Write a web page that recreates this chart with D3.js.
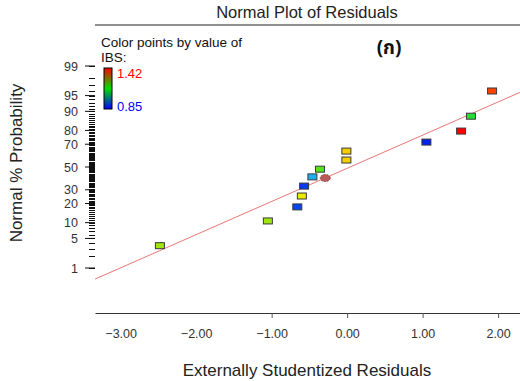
<!DOCTYPE html>
<html>
<head>
<meta charset="utf-8">
<script src="https://cdn.jsdelivr.net/npm/d3@7"></script>
<style>
  body { margin: 0; background: #fff; }
  svg { font-family: "Liberation Sans", Arial, sans-serif; }
</style>
</head>
<body>
<svg id="chart" width="520" height="381"></svg>
<script>
// residuals, normal % probability and IBS value for each run
var residuals = [-2.48, -1.05, -0.66, -0.60, -0.57, -0.46, -0.36, -0.01, -0.01, 1.05, 1.51, 1.64, 1.92];
var probs     = [3.5, 10.7, 17.9, 25.2, 33.0, 41.0, 48.0, 56.4, 64.3, 71.7, 79.6, 87.9, 96.0];
var ibs       = [1.22, 1.22, 0.88, 1.27, 0.87, 0.97, 1.17, 1.295, 1.295, 0.85, 1.42, 1.13, 1.38];

// the round marker sitting on the line
var markResidual = [-0.29];
var markProb = [40.0];

var xTicks = [-3, -2, -1, 0, 1, 2];
var yTicks = [1, 5, 10, 20, 30, 50, 70, 80, 90, 95, 99];
var ibsRange = [0.85, 1.42];

// fitted line z = a + b * residual
var fitIntercept = -0.03, fitSlope = 0.764;

// inverse normal cdf (Acklam)
function qnorm(p) {
    var a = [-3.969683028665376e+01, 2.209460984245205e+02, -2.759285104469687e+02, 1.383577518672690e+02, -3.066479806614716e+01, 2.506628277459239e+00];
    var b = [-5.447609879822406e+01, 1.615858368580409e+02, -1.556989798598866e+02, 6.680131188771972e+01, -1.328068155288572e+01];
    var c = [-7.784894002430293e-03, -3.223964580411365e-01, -2.400758277161838e+00, -2.549732539343734e+00, 4.374664141464968e+00, 2.938163982698783e+00];
    var d = [7.784695709041462e-03, 3.224671290700398e-01, 2.445134137142996e+00, 3.754408661907416e+00];
    var q, r;
    if (p < 0.02425) {
        q = Math.sqrt(-2 * Math.log(p));
        return (((((c[0]*q+c[1])*q+c[2])*q+c[3])*q+c[4])*q+c[5]) / ((((d[0]*q+d[1])*q+d[2])*q+d[3])*q+1);
    }
    if (p > 1 - 0.02425) {
        q = Math.sqrt(-2 * Math.log(1 - p));
        return -(((((c[0]*q+c[1])*q+c[2])*q+c[3])*q+c[4])*q+c[5]) / ((((d[0]*q+d[1])*q+d[2])*q+d[3])*q+1);
    }
    q = p - 0.5; r = q * q;
    return (((((a[0]*r+a[1])*r+a[2])*r+a[3])*r+a[4])*r+a[5])*q / (((((b[0]*r+b[1])*r+b[2])*r+b[3])*r+b[4])*r+1);
}

var svg = d3.select("svg");
var left = 95, right = 520, axisY = 313;

var x = d3.scaleLinear().domain([-3.34, 2.29]).range([left, right]);
var z = d3.scaleLinear().domain([qnorm(0.01), qnorm(0.99)]).range([268, 66]);
var y = function (pct) { return z(qnorm(pct / 100)); };

var color = d3.scaleLinear()
    .domain([0.85, 0.9925, 1.135, 1.2775, 1.42])
    .range(["#0022ee", "#22c8ee", "#22e022", "#f4ec00", "#ff0000"]);

// title + top rule
svg.append("text")
    .attr("x", 307).attr("y", 18)
    .attr("text-anchor", "middle")
    .style("font-size", "16.5px")
    .attr("fill", "#222")
    .text("Normal Plot of Residuals");

svg.append("line")
    .attr("x1", left).attr("x2", right)
    .attr("y1", 25).attr("y2", 25)
    .attr("stroke", "#222");

// x axis
var gx = svg.append("g")
    .attr("transform", "translate(0," + axisY + ")")
    .call(d3.axisBottom(x).tickValues(xTicks).tickSize(5).tickSizeOuter(0)
        .tickFormat(d3.format(".2f")));
gx.select(".domain").attr("stroke", "#333");
gx.selectAll(".tick line").attr("stroke", "#555")
    .filter(function (d) { return d < -1; }).remove();
gx.selectAll(".tick text")
    .attr("dy", 0).attr("y", 25)
    .style("font-size", "12.5px")
    .style("font-family", "'Liberation Sans', Arial, sans-serif")
    .attr("fill", "#333");

svg.append("text")
    .attr("x", 307).attr("y", 376)
    .attr("text-anchor", "middle")
    .style("font-size", "17px")
    .attr("fill", "#222")
    .text("Externally Studentized Residuals");

// y axis: probability scale, minor ticks every percent
var minor = d3.range(1, 100);
svg.append("g").selectAll("line")
    .data(minor)
    .enter().append("line")
    .attr("x1", 89).attr("x2", 95)
    .attr("y1", function (d) { return Math.round(y(d)) + 0.5; })
    .attr("y2", function (d) { return Math.round(y(d)) + 0.5; })
    .attr("stroke", "#111").attr("stroke-width", 1)
    .style("shape-rendering", "crispEdges");

var gy = svg.append("g");
gy.selectAll("line")
    .data(yTicks)
    .enter().append("line")
    .attr("x1", 85).attr("x2", 95)
    .attr("y1", function (d) { return y(d); })
    .attr("y2", function (d) { return y(d); })
    .attr("stroke", "#111");
gy.selectAll("text")
    .data(yTicks)
    .enter().append("text")
    .attr("x", 78)
    .attr("y", function (d) { return y(d) + 4.5; })
    .attr("text-anchor", "end")
    .style("font-size", "12.5px")
    .attr("fill", "#333")
    .text(function (d) { return d; });

svg.append("text")
    .attr("transform", "translate(22,163) rotate(-90)")
    .attr("text-anchor", "middle")
    .style("font-size", "17px")
    .attr("fill", "#222")
    .text("Normal % Probability");

// fitted line
var xd = x.domain();
svg.append("line")
    .attr("x1", x(xd[0])).attr("y1", z(fitIntercept + fitSlope * xd[0]))
    .attr("x2", x(xd[1])).attr("y2", z(fitIntercept + fitSlope * xd[1]))
    .attr("stroke", "#e87878").attr("stroke-width", 1);

// points
svg.append("g").selectAll("rect")
    .data(residuals)
    .enter().append("rect")
    .attr("x", function (d) { return x(d) - 4.5; })
    .attr("y", function (d, i) { return y(probs[i]) - 3; })
    .attr("width", 9).attr("height", 6)
    .attr("fill", function (d, i) { return color(ibs[i]); })
    .attr("stroke", "#3a3a3a").attr("stroke-width", 1);

svg.append("g").selectAll("ellipse")
    .data(markResidual)
    .enter().append("ellipse")
    .attr("cx", function (d) { return x(d); })
    .attr("cy", function (d, i) { return y(markProb[i]); })
    .attr("rx", 5).attr("ry", 3.5)
    .attr("fill", "#b85a5a")
    .attr("stroke", "#8a4040").attr("stroke-dasharray", "2,1");

// legend
var leg = svg.append("g");
leg.append("text").attr("x", 101).attr("y", 47)
    .style("font-size", "13.5px").attr("fill", "#111")
    .text("Color points by value of");
leg.append("text").attr("x", 101).attr("y", 62)
    .style("font-size", "13.5px").attr("fill", "#111")
    .text("IBS:");

var grad = svg.append("defs").append("linearGradient")
    .attr("id", "ibsgrad").attr("x1", 0).attr("y1", 0).attr("x2", 0).attr("y2", 1);
grad.append("stop").attr("offset", "0%").attr("stop-color", "#ff0000");
grad.append("stop").attr("offset", "50%").attr("stop-color", "#00e000");
grad.append("stop").attr("offset", "100%").attr("stop-color", "#0000ff");

leg.append("rect")
    .attr("x", 104).attr("y", 68).attr("width", 8).attr("height", 41)
    .attr("fill", "url(#ibsgrad)")
    .attr("stroke", "#000").attr("stroke-width", 1);
leg.append("text").attr("x", 117).attr("y", 78)
    .style("font-size", "13px").attr("fill", "#ff0000")
    .text(d3.format(".2f")(ibsRange[1]));
leg.append("text").attr("x", 117).attr("y", 111)
    .style("font-size", "13px").attr("fill", "#0000ff")
    .text(d3.format(".2f")(ibsRange[0]));

svg.append("text")
    .attr("x", 389).attr("y", 54)
    .attr("text-anchor", "middle")
    .style("font-size", "19px").style("font-weight", "bold")
    .style("font-family", "'Noto Sans Thai', Tahoma, 'Noto Sans', sans-serif")
    .attr("fill", "#111")
    .text("(ก)");
</script>
</body>
</html>
